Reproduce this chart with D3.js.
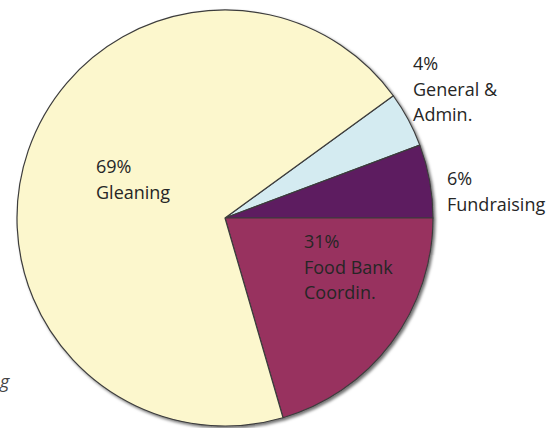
<!DOCTYPE html>
<html>
<head>
<meta charset="utf-8">
<script src="https://cdn.jsdelivr.net/npm/d3@7"></script>
<style>
  body { margin: 0; background: #fff; }
  svg text { font-family: "Open Sans", sans-serif; fill: #262626; }
</style>
</head>
<body>
<svg id="chart" width="550" height="428"></svg>
<script>
// slices, clockwise from the General & Admin wedge
const categories = ['General & Admin.', 'Fundraising', 'Food Bank Coordin.', 'Gleaning'];
const shares = [4.3, 5.7, 20.5, 69.5];
const percentLabels = ['4%', '6%', '31%', '69%'];
const nameLines = [['General &', 'Admin.'], ['Fundraising'], ['Food Bank', 'Coordin.'], ['Gleaning']];
const colors = ['#d4ebf1', '#5d1b60', '#98305f', '#fcf7cd'];

const width = 550;
const height = 428;
const radius = 208;
const cx = 225;
const cy = 218;

const svg = d3.select('#chart');

const defs = svg.append('defs');
defs.append('filter')
  .attr('id', 'shadow')
  .attr('x', '-10%').attr('y', '-10%').attr('width', '120%').attr('height', '120%')
  .append('feDropShadow')
  .attr('dx', 2).attr('dy', 2).attr('stdDeviation', 1.5)
  .attr('flood-color', '#000').attr('flood-opacity', 0.55);

// first wedge begins so that Food Bank starts on the horizontal
const startAngle = Math.PI / 2 - (shares[0] + shares[1]) / 100 * 2 * Math.PI;

const pie = d3.pie()
  .sort(null)
  .value(d => d)
  .startAngle(startAngle)
  .endAngle(startAngle + 2 * Math.PI);

const arc = d3.arc().innerRadius(0).outerRadius(radius);

const g = svg.append('g').attr('transform', `translate(${cx},${cy})`);

g.append('g')
  .attr('filter', 'url(#shadow)')
  .selectAll('path')
  .data(pie(shares))
  .join('path')
  .attr('d', arc)
  .attr('fill', (d, i) => colors[i])
  .attr('stroke', '#3d3d3d')
  .attr('stroke-width', 1.2)
  .attr('stroke-linejoin', 'round');

// label anchors: left x and first baseline, in page pixels
const labelPos = [[413, 70], [447, 185], [304, 248], [96, 173]];

const labels = svg.append('g').attr('font-size', 18);
labelPos.forEach((p, i) => {
  const t = labels.append('text').attr('x', p[0]).attr('y', p[1]);
  [percentLabels[i]].concat(nameLines[i]).forEach((line, j) => {
    t.append('tspan').attr('x', p[0]).attr('dy', j === 0 ? 0 : 25.5).text(line);
  });
});

// italic word fragment at the left edge
svg.append('text')
  .attr('x', 0).attr('y', 388)
  .attr('font-size', 18)
  .attr('font-style', 'italic')
  .style('fill', '#444')
  .text('g');
</script>
</body>
</html>
